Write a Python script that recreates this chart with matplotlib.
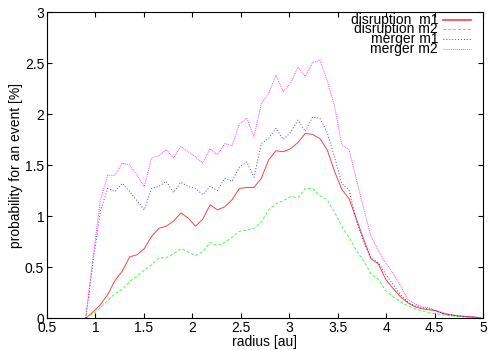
#!/usr/bin/env python3
"""
Event probability vs. radius (gnuplot style)
"""
import matplotlib
matplotlib.use('Agg')
import matplotlib.pyplot as plt
import numpy as np
from matplotlib.ticker import FormatStrFormatter

plt.rcParams['font.family'] = ['Liberation Sans', 'DejaVu Sans']

# radius bins [au]
radius = np.round(0.9 + 0.0755 * np.arange(55), 4)

# probability for an event [%]
disruption_m1 = [0, 0.06, 0.13, 0.23, 0.37, 0.46, 0.60, 0.62, 0.68, 0.80,
                 0.88, 0.90, 0.95, 1.03, 0.98, 0.90, 0.97, 1.11, 1.06, 1.09,
                 1.16, 1.27, 1.28, 1.28, 1.37, 1.55, 1.64, 1.63, 1.66, 1.72,
                 1.81, 1.80, 1.76, 1.65, 1.44, 1.26, 1.17, 0.97, 0.77, 0.58,
                 0.53, 0.38, 0.29, 0.21, 0.15, 0.11, 0.09, 0.08, 0.07, 0.04,
                 0.03, 0.02, 0.015, 0.01, 0]
disruption_m2 = [0, 0.04, 0.10, 0.17, 0.24, 0.28, 0.36, 0.41, 0.47, 0.52,
                 0.59, 0.59, 0.63, 0.68, 0.65, 0.61, 0.65, 0.74, 0.71, 0.74,
                 0.79, 0.85, 0.86, 0.88, 0.94, 1.06, 1.12, 1.15, 1.19, 1.18,
                 1.27, 1.27, 1.20, 1.16, 1.04, 0.90, 0.79, 0.66, 0.56, 0.43,
                 0.38, 0.27, 0.21, 0.16, 0.12, 0.09, 0.07, 0.05, 0.04, 0.03,
                 0.02, 0.015, 0.01, 0.005, 0]
merger_m1 = [0, 0.55, 1.05, 1.27, 1.24, 1.32, 1.24, 1.15, 1.06, 1.27,
             1.29, 1.34, 1.23, 1.33, 1.29, 1.27, 1.21, 1.29, 1.25, 1.37,
             1.34, 1.48, 1.53, 1.38, 1.71, 1.76, 1.86, 1.75, 1.82, 1.94,
             1.83, 1.97, 1.96, 1.82, 1.58, 1.32, 1.25, 0.95, 0.74, 0.59,
             0.54, 0.43, 0.33, 0.23, 0.16, 0.12, 0.10, 0.09, 0.07, 0.04,
             0.03, 0.02, 0.01, 0.01, 0]
merger_m2 = [0, 0.60, 1.15, 1.40, 1.40, 1.52, 1.50, 1.40, 1.29, 1.57,
             1.59, 1.65, 1.57, 1.68, 1.63, 1.58, 1.52, 1.66, 1.60, 1.71,
             1.69, 1.90, 1.96, 1.78, 2.10, 2.20, 2.38, 2.22, 2.30, 2.46,
             2.37, 2.50, 2.53, 2.33, 2.08, 1.70, 1.65, 1.36, 1.07, 0.80,
             0.66, 0.54, 0.44, 0.32, 0.18, 0.14, 0.11, 0.10, 0.06, 0.05,
             0.03, 0.02, 0.015, 0.01, 0]

labels = ['disruption  m1', 'disruption m2', 'merger m1', 'merger m2']
colors = ['#ff0000', '#00ff00', '#0000ff', '#ff00ff']
styles = ['-', (0, (3, 2)), (0, (1, 2)), (0, (1, 1))]

fig = plt.figure(figsize=(5, 3.5), dpi=100)
ax = fig.add_axes([0.094, 0.0914, 0.872, 0.8743])

series = [disruption_m1, disruption_m2, merger_m1, merger_m2]
for vals, c, ls in zip(series, colors, styles):
    ax.plot(radius, vals, color=c, linestyle=ls, linewidth=0.7, alpha=0.75)

ax.set_xlim(0.5, 5)
ax.set_ylim(0, 3)
ax.set_xticks(np.arange(0.5, 5.01, 0.5))
ax.set_yticks(np.arange(0, 3.01, 0.5))
ax.xaxis.set_major_formatter(FormatStrFormatter('%g'))
ax.yaxis.set_major_formatter(FormatStrFormatter('%g'))
ax.tick_params(direction='in', top=True, right=True, length=3.5,
               width=0.8, labelsize=10, pad=2)
for sp in ax.spines.values():
    sp.set_linewidth(0.8)

ax.set_xlabel('radius [au]', fontsize=10, labelpad=0)
ax.set_ylabel('probability for an event [%]', fontsize=10, labelpad=1)

# gnuplot style key: right aligned text, sample to the right
key_y = [0.974, 0.944, 0.912, 0.879]
for lab, c, ls, yk in zip(labels, colors, styles, key_y):
    ax.text(0.897, yk, lab, transform=ax.transAxes, ha='right', va='center',
            fontsize=10)
    ax.plot([0.908, 0.972], [yk, yk], transform=ax.transAxes, color=c,
            linestyle=ls, linewidth=0.7 if ls != '-' else 1.2, alpha=0.75)

plt.savefig('out.png', dpi=100)
plt.close()
